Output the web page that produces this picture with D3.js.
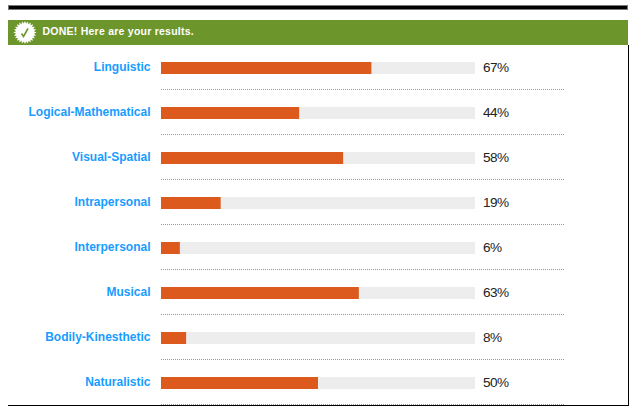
<!DOCTYPE html>
<html>
<head>
<meta charset="utf-8">
<script src="https://cdnjs.cloudflare.com/ajax/libs/d3/7.8.5/d3.min.js"></script>
<style>
html, body { margin: 0; padding: 0; background: #fff; }
text { font-family: "Liberation Sans", Arial, sans-serif; }
</style>
</head>
<body>
<div id="chart"></div>
<script>
const categories = ["Linguistic", "Logical-Mathematical", "Visual-Spatial", "Intrapersonal", "Interpersonal", "Musical", "Bodily-Kinesthetic", "Naturalistic"];
const percents = [67, 44, 58, 19, 6, 63, 8, 50];

const width = 636, height = 416;

const svg = d3.select("#chart").append("svg")
    .attr("width", width)
    .attr("height", height)
    .style("display", "block");

const x = d3.scaleLinear().domain([0, 100]).range([161, 475]);
const y = d3.scaleBand().domain(categories).range([45, 405]);
const barH = 12;

// frame round the results
svg.append("rect").attr("x", 8).attr("y", 5).attr("width", 620).attr("height", 5).attr("fill", "#777");
svg.append("rect").attr("x", 9).attr("y", 6).attr("width", 618).attr("height", 3).attr("fill", "#000");
svg.append("rect").attr("x", 628).attr("y", 45).attr("width", 1).attr("height", 361).attr("fill", "#000");
svg.append("rect").attr("x", 8).attr("y", 405).attr("width", 621).attr("height", 1).attr("fill", "#000");

// green header
svg.append("rect").attr("x", 8).attr("y", 20).attr("width", 620).attr("height", 25).attr("fill", "#6c952b");

// seal with a tick, star points made from a small d3 radial line
const seal = svg.append("g").attr("transform", "translate(25,32.5)");
const sealPoints = d3.range(48).map(i => [i * Math.PI / 24, i % 2 ? 9 : 11.5]);
seal.append("path")
    .attr("d", d3.lineRadial().curve(d3.curveLinearClosed)(sealPoints))
    .attr("fill", "#fff");
seal.append("path")
    .attr("d", "M-3.5,1 L-1.5,4 L3,-4")
    .attr("fill", "none")
    .attr("stroke", "#6c952b")
    .attr("stroke-width", 1.6);

svg.append("text")
    .attr("x", 42.5)
    .attr("y", 35)
    .attr("font-size", 10.5)
    .attr("font-weight", "bold")
    .attr("letter-spacing", 0.24)
    .attr("fill", "#fff")
    .text("DONE! Here are your results.");

const rows = svg.selectAll("g.row")
    .data(categories)
    .enter().append("g")
    .attr("class", "row")
    .attr("transform", d => `translate(0,${y(d)})`);

rows.append("rect")
    .attr("x", x(0))
    .attr("y", 17)
    .attr("width", x(100) - x(0))
    .attr("height", barH)
    .attr("fill", "#ecedec");

rows.append("rect")
    .attr("x", x(0))
    .attr("y", 17)
    .attr("width", (d, i) => x(percents[i]) - x(0))
    .attr("height", barH)
    .attr("fill", "#dc5a1e");

rows.append("text")
    .attr("x", 150.5)
    .attr("y", 26)
    .attr("text-anchor", "end")
    .attr("font-size", 12)
    .attr("font-weight", "bold")
    .attr("fill", "#189cff")
    .text(d => d);

rows.append("text")
    .attr("x", 483)
    .attr("y", 27)
    .attr("font-size", 13.6)
    .attr("letter-spacing", -0.6)
    .attr("fill", "#222")
    .text((d, i) => percents[i] + "%");

// dotted rule under each row
rows.append("line")
    .attr("x1", 161)
    .attr("x2", 564)
    .attr("y1", 44.5)
    .attr("y2", 44.5)
    .attr("stroke", "#999")
    .attr("stroke-width", 1)
    .attr("stroke-dasharray", "1,1");
</script>
</body>
</html>
